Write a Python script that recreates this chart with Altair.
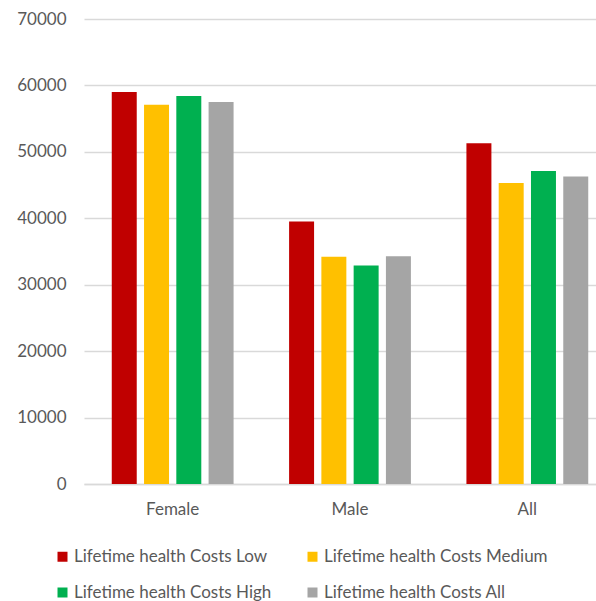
import altair as alt
import pandas as pd

groups = ["Female", "Male", "All"]
series = [
    "Lifetime health Costs Low",
    "Lifetime health Costs Medium",
    "Lifetime health Costs High",
    "Lifetime health Costs All",
]
low = [59000, 39500, 51300]
medium = [57100, 34200, 45300]
high = [58400, 32900, 47100]
overall = [57500, 34300, 46300]
colors = ["#C00000", "#FFC000", "#00B050", "#A5A5A5"]

rows = []
for name, vals in zip(series, [low, medium, high, overall]):
    for g, v in zip(groups, vals):
        rows.append({"group": g, "series": name, "cost": v})
df = pd.DataFrame(rows)

FONT = "Lato"
TXT = "#595959"
GRID = "#D9D9D9"
FS = 17

chart = (
    alt.Chart(df)
    .mark_bar()
    .encode(
        x=alt.X(
            "group:N",
            sort=groups,
            title=None,
            scale=alt.Scale(range=[0, 532], paddingInner=0, paddingOuter=0),
            axis=alt.Axis(
                labelAngle=0,
                ticks=False,
                labelPadding=17,
                labelFont=FONT,
                labelFontSize=FS,
                labelColor=TXT,
                domainColor=GRID,
                domainWidth=1.5,
                grid=False,
            ),
        ),
        xOffset=alt.XOffset(
            "series:N",
            sort=series,
            scale=alt.Scale(paddingInner=0.226, paddingOuter=0.86),
        ),
        y=alt.Y(
            "cost:Q",
            title=None,
            scale=alt.Scale(domain=[0, 70000], nice=False),
            axis=alt.Axis(
                values=list(range(0, 70001, 10000)),
                format="d",
                ticks=False,
                domain=False,
                labelPadding=18,
                labelFont=FONT,
                labelFontSize=FS,
                labelColor=TXT,
                gridColor=GRID,
                gridWidth=1.5,
            ),
        ),
        color=alt.Color(
            "series:N",
            sort=series,
            scale=alt.Scale(domain=series, range=colors),
            legend=alt.Legend(
                title=None,
                orient="none",
                direction="horizontal",
                legendX=-30,
                legendY=529,
                columns=2,
                columnPadding=32,
                rowPadding=18,
                symbolType="square",
                symbolSize=100,
                symbolStrokeWidth=0,
                symbolOffset=0,
                labelOffset=3,
                labelFont=FONT,
                labelFontSize=FS,
                labelColor=TXT,
                labelLimit=400,
            ),
        ),
    )
    .properties(
        width=512,
        height=465,
        autosize=alt.AutoSizeParams(type="none"),
        padding={"left": 84, "top": 19, "right": 0, "bottom": 117},
        view=alt.ViewBackground(strokeWidth=0, strokeOpacity=0),
    )
    .configure_axisX(grid=False)
    .configure(background="white")
)

chart.save("out.html", embed_options={"renderer": "svg", "actions": False})
